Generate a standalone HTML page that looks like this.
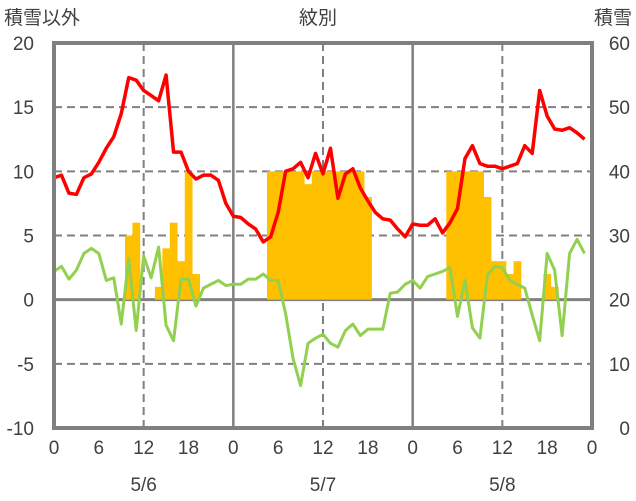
<!DOCTYPE html>
<html><head><meta charset="utf-8"><style>
body{margin:0;background:#fff;width:636px;height:501px;overflow:hidden}
svg{display:block;font-family:"Liberation Sans","Noto Sans CJK JP",sans-serif}
</style></head><body>
<svg id="chart" width="636" height="501">
<text x="4" y="24" font-size="19" fill="#404040">積雪以外</text>
<text x="318" y="24" font-size="19" fill="#404040" text-anchor="middle">紋別</text>
<text x="632" y="24" font-size="19" fill="#404040" text-anchor="end">積雪</text>
<g id="grid"></g><g id="bars"></g><g id="lines"></g><g id="axes"></g>
</svg>
<script>
const hours = Array.from({length:72},(_,i)=>i);
const redSeries = [9.5,9.7,8.3,8.2,9.5,9.8,10.7,11.8,12.7,14.5,17.3,17.1,16.3,15.9,15.5,17.5,11.5,11.5,10,9.4,9.7,9.7,9.3,7.5,
6.5,6.4,5.9,5.5,4.5,4.9,6.8,10,10.2,10.7,9.5,11.4,9.8,11.8,7.9,9.8,10.2,8.7,7.7,6.8,6.3,6.2,5.5,4.9,
5.9,5.8,5.8,6.3,5.2,6.0,7.1,11,12,10.6,10.4,10.4,10.2,10.4,10.6,12,11.4,16.3,14.3,13.3,13.2,13.4,13,12.5];
const greenSeries = [2.2,2.6,1.6,2.3,3.6,4.0,3.6,1.5,1.7,-1.9,3.2,-2.4,3.4,1.7,4.1,-2.0,-3.2,1.6,1.6,-0.5,0.9,1.2,1.5,1.1,
1.2,1.2,1.6,1.6,2.0,1.5,1.5,-1.1,-4.6,-6.7,-3.4,-3.0,-2.7,-3.4,-3.7,-2.4,-1.9,-2.8,-2.3,-2.3,-2.3,0.5,0.6,1.2,
1.5,0.9,1.8,2.0,2.2,2.5,-1.3,1.5,-2.2,-3.0,1.9,2.6,2.5,1.5,1.2,0.9,-1.2,-3.2,3.6,2.3,-2.8,3.6,4.7,3.6];
const purpleSeries = new Array(72).fill(-10);
const snowHours = [10,11,14,15,16,17,18,19,29,30,31,32,33,34,35,36,37,38,39,40,41,42,53,54,55,56,57,58,59,60,61,62,66,67];
const snowValues = [30,32,22,28,32,26,40,24,40,40,40,40,40,38,40,40,40,40,40,40,40,36,40,40,40,40,40,36,26,26,24,26,24,22];
const leftTicks = [20,15,10,5,0,-5,-10];
const rightTicks = [60,50,40,30,20,10,0];
const xTicks = [0,6,12,18,24,30,36,42,48,54,60,66,72];
const xTickLabels = ["0","6","12","18","0","6","12","18","0","6","12","18","0"];
const dateLabels = ["5/6","5/7","5/8"];
const dateHours = [12,36,60];

const X0=54,X1=592,Y0=43,Y1=428;
const x=h=>X0+h*(X1-X0)/72;
const yL=v=>Y1-(v+10)*(Y1-Y0)/30;
const yR=v=>Y1-v*(Y1-Y0)/60;
const NS="http://www.w3.org/2000/svg";
function mk(tag,attrs,parent){const e=document.createElementNS(NS,tag);for(const k in attrs)e.setAttribute(k,attrs[k]);parent.appendChild(e);return e;}
const grid=document.getElementById('grid'),bars=document.getElementById('bars'),lines=document.getElementById('lines'),axes=document.getElementById('axes');

leftTicks.forEach(v=>{
  if(v===20||v===-10)return;
  const l=mk('line',{x1:X0,x2:X1,y1:yL(v),y2:yL(v),stroke:'#808080','stroke-width':v===0?3:2,'stroke-dasharray':v===0?'none':'8,5'},grid);
  
  
});
[12,24,36,48,60].forEach(h=>{
  const solid=h%24===0;
  const l=mk('line',{x1:x(h),x2:x(h),y1:Y0,y2:Y1,stroke:'#808080','stroke-width':solid?2.5:2,'stroke-dasharray':solid?'none':'8,5'},grid);
  
  
});
const w=(X1-X0)/72;
snowHours.forEach((h,i)=>{
  const r=mk('rect',{x:x(h)-w/2,y:yR(snowValues[i]),width:w+0.3,height:Y1-yR(snowValues[i])-(Y1-yL(0)<0?0:(Y1-yL(0))),fill:'#FFC000'},bars);
  r.setAttribute('height',yL(0)-yR(snowValues[i]));
  
  
});
function line(data,color,name,sw){
  const p=mk('polyline',{points:data.map((v,i)=>x(hours[i])+','+yL(v)).join(' '),fill:'none',stroke:color,'stroke-width':sw,'stroke-linejoin':'round'},lines);
  
  
}
line(greenSeries,'#92D050','green-series',3);
line(redSeries,'#FF0000','red-series',3.5);
const b=mk('rect',{x:X0,y:Y0,width:X1-X0,height:Y1-Y0,fill:'none',stroke:'#808080','stroke-width':4},axes);


line(purpleSeries,'#7030A0','purple-series',3);
leftTicks.forEach(v=>{
  const t=mk('text',{x:34,y:yL(v)+7,'font-size':19,fill:'#404040','text-anchor':'end'},axes);t.textContent=v;
  
  
});
rightTicks.forEach(v=>{
  const t=mk('text',{x:630,y:yR(v)+7,'font-size':19,fill:'#404040','text-anchor':'end'},axes);t.textContent=v;
  
  
});
xTicks.forEach((h,i)=>{
  const t=mk('text',{x:x(h),y:454,'font-size':19,fill:'#404040','text-anchor':'middle'},axes);t.textContent=xTickLabels[i];
  
  
});
dateHours.forEach((h,i)=>{
  const t=mk('text',{x:x(h),y:491,'font-size':19,fill:'#404040','text-anchor':'middle'},axes);t.textContent=dateLabels[i];
  
  
});
</script>
</body></html>
